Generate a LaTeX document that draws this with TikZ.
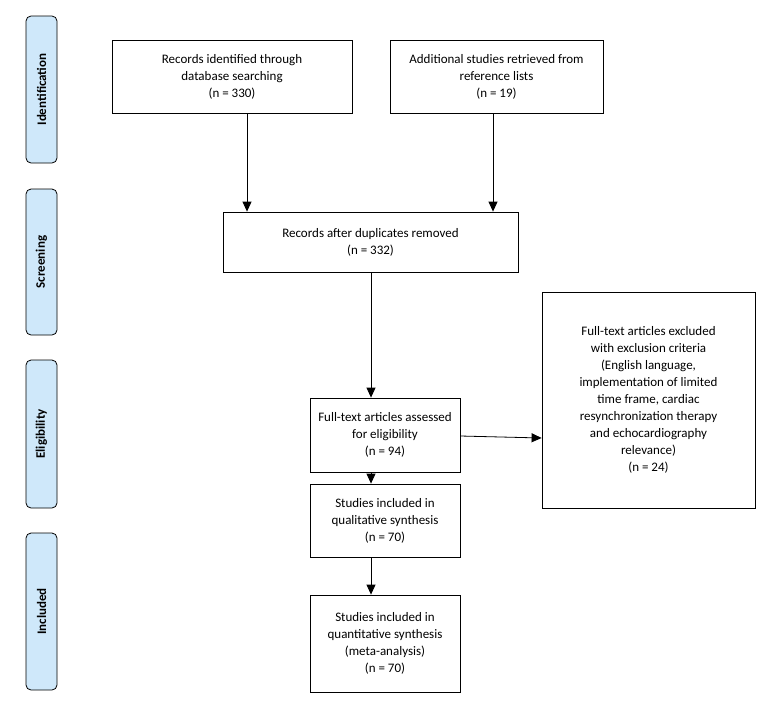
\documentclass[tikz,border=0pt]{standalone}
\usepackage{fontspec}
\setmainfont{Carlito}
\usetikzlibrary{arrows.meta}
\definecolor{sideblue}{HTML}{CFE8FA}
\begin{document}
\begin{tikzpicture}[x=1pt,y=-1pt,
 box/.style={draw,line width=0.8pt,align=center,inner sep=2pt,font=\fontsize{13}{17}\selectfont},
 side/.style={draw,line width=0.8pt,rounded corners=5pt,fill=sideblue,rotate=90,font=\bfseries\fontsize{13}{15}\selectfont,inner sep=0pt},
 arr/.style={draw,line width=0.8pt,-{Triangle[length=10pt,width=9pt]}}]
\useasboundingbox (0,0) rectangle (777,716);
\node[side,minimum width=147,minimum height=31] (s1) at (41.5,89.5) {Identification};
\node[side,minimum width=146,minimum height=31] (s2) at (41.5,262) {Screening};
\node[side,minimum width=148,minimum height=31] (s3) at (41.5,434) {Eligibility};
\node[side,minimum width=157,minimum height=31] (s4) at (41.5,611.5) {Included};
\node[box,minimum width=240,minimum height=73] (a) at (232,76.5) {Records identified through\\database searching\\(n = 330)};
\node[box,minimum width=213,minimum height=73] (b) at (496.5,76.5) {Additional studies retrieved from\\reference lists\\(n = 19)};
\node[box,minimum width=295,minimum height=60] (c) at (370.5,242) {Records after duplicates removed\\(n = 332)};
\node[box,minimum width=150,minimum height=74] (d) at (385,435) {Full-text articles assessed\\for eligibility\\(n = 94)};
\node[box,minimum width=213,minimum height=216] (e) at (648.5,400) {Full-text articles excluded\\with exclusion criteria\\(English language,\\implementation of limited\\time frame, cardiac\\resynchronization therapy\\and echocardiography\\relevance)\\(n = 24)};
\node[box,minimum width=150,minimum height=73] (f) at (385,520.5) {Studies included in\\qualitative synthesis\\(n = 70)};
\node[box,minimum width=150,minimum height=97] (g) at (385,643.5) {Studies included in\\quantitative synthesis\\(meta-analysis)\\(n = 70)};
\draw[arr] (a.south -| 247,0) -- (c.north -| 247,0);
\draw[arr] (b.south -| 493,0) -- (c.north -| 493,0);
\draw[arr] (c.south -| 371,0) -- (d.north -| 371,0);
\draw[arr] (d.east |- 0,436) -- (e.west |- 0,438);
\draw[arr] (d.south -| 371,0) -- (f.north -| 371,0);
\draw[arr] (f.south -| 371,0) -- (g.north -| 371,0);
\end{tikzpicture}
\end{document}
